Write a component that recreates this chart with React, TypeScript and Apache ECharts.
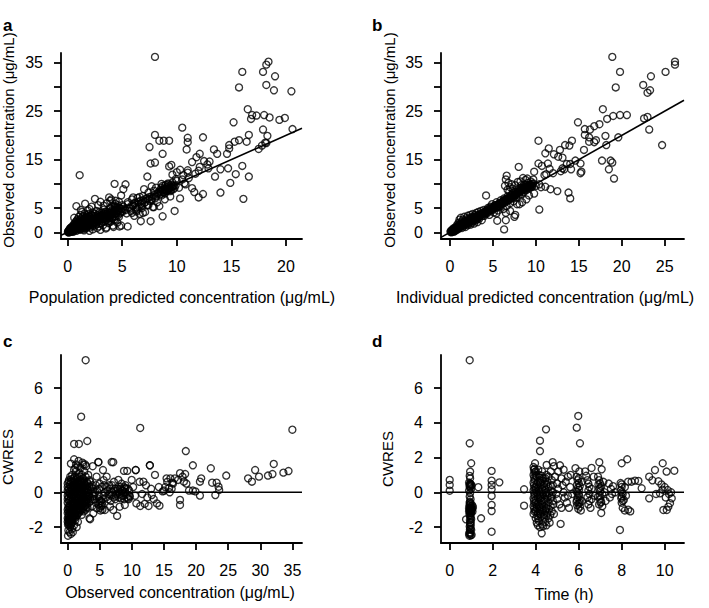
import React, { useEffect, useRef } from "react";
import * as echarts from "echarts";

// ---------- tick arrays ----------
const popPredTicks = [0, 5, 10, 15, 20];
const indPredTicks = [0, 5, 10, 15, 20, 25];
const obsTicksAB = [0, 5, 10, 15, 20, 25, 30, 35];
const obsLabelsAB = [0, 5, 15, 25, 35];
const obsTicksC = [0, 5, 10, 15, 20, 25, 30, 35];
const cwresTicks = [-2, 0, 2, 4, 6];
const timeTicks = [0, 2, 4, 6, 8, 10];

// ---------- panel a: population predicted vs observed ----------
const popPredObs: number[][] = [
  [0.02,0.05],[0.05,0.2],[0.08,0.1],[0.1,0.4],[0.12,0.0],[0.15,0.3],[0.18,0.6],[0.2,0.15],[0.22,0.8],[0.25,0.4],[0.28,0.1],[0.3,0.6],[0.32,1.0],[0.35,0.3],[0.38,0.7],[0.4,0.2],[0.42,1.2],[0.45,0.5],[0.48,0.9],[0.5,0.3],[0.52,1.5],[0.55,0.7],[0.58,1.1],[0.6,0.4],[0.62,1.8],[0.65,0.9],[0.68,1.3],[0.7,0.5],[0.72,2.1],[0.75,1.0],[0.78,1.6],[0.8,0.7],[0.82,2.4],[0.85,1.2],[0.88,1.9],[0.9,0.6],[0.92,2.7],[0.95,1.4],[0.98,0.9],[1.0,2.2],[1.02,3.2],[1.05,1.6],[1.08,0.8],[1.1,2.6],[1.12,1.2],[1.15,1.9],[1.18,3.6],[1.2,0.7],[1.22,2.3],[1.25,1.5],[1.28,2.9],[1.3,1.0],[1.32,4.2],[1.35,1.8],[1.38,2.5],[1.4,1.3],[1.42,3.3],[1.45,0.9],[1.48,2.1],[1.5,1.6],[1.52,2.8],[1.55,3.9],[1.58,1.2],[1.6,2.4],[1.62,1.9],[1.65,3.1],[1.68,0.8],[1.7,2.7],[1.72,1.5],[1.75,3.5],[1.78,2.2],[1.8,1.1],[1.82,2.9],[1.85,4.5],[1.88,1.8],[1.9,2.5],[1.92,3.8],[1.95,1.4],[1.98,2.1],[2.0,3.2],[2.05,1.0],[2.1,2.7],[2.15,3.6],[2.2,1.7],[2.25,2.3],[2.3,4.1],[2.35,1.3],[2.4,3.0],[2.45,2.0],[2.5,3.4],[2.55,2.6],[2.6,1.6],[2.65,4.4],[2.7,2.2],[2.75,3.1],[2.8,2.8],[2.85,1.2],[2.9,3.7],[2.95,2.4],[3.0,3.3],[3.05,1.9],[3.1,4.0],[3.15,2.7],[3.2,3.5],[3.25,1.5],[3.3,2.9],[3.35,4.7],[3.4,2.3],[3.45,3.8],[3.5,3.1],[3.55,1.0],[3.6,2.6],[3.65,4.2],[3.7,3.4],[3.75,1.9],[3.8,2.9],[3.85,5.0],[3.9,3.6],[3.95,2.2],[4.0,4.1],[4.05,3.0],[4.1,5.4],[4.15,1.4],[4.2,3.8],[4.25,2.6],[4.3,4.6],[4.35,5.9],[4.4,3.3],[4.45,4.0],[4.5,5.2],[4.55,2.0],[4.6,4.7],[4.65,3.6],[4.7,6.3],[4.75,1.2],[4.8,5.0],[4.9,4.3],[5.0,5.6],[4.4,6.5],[4.6,5.6],[4.5,4.4],[4.3,5.1],
  [0.1,0.0],[0.2,0.3],[0.3,0.2],[0.4,0.5],[0.5,0.6],[0.6,0.8],[0.7,0.7],[0.8,1.1],[0.9,1.0],[1.0,1.2],[1.1,1.0],[1.2,1.5],[1.3,1.3],[1.4,1.7],[1.5,1.2],[1.6,1.8],[1.7,1.4],[1.8,2.0],[1.9,1.6],[2.0,2.2],[2.1,1.9],[2.2,2.5],[2.3,2.0],[2.4,2.6],[2.5,2.2],[2.6,2.8],[2.7,2.5],[2.8,3.0],[2.9,2.6],[3.0,3.1],[3.1,2.8],[3.2,3.3],[3.3,2.7],[3.4,3.5],[3.5,2.9],[3.6,3.7],[3.7,3.1],[3.8,3.9],[3.9,3.3],[4.0,3.6],[4.1,3.2],[4.2,4.3],[4.3,3.7],[4.4,4.8],[4.5,3.9],[4.6,4.3],[4.7,5.0],[4.8,4.0],[4.9,4.8],[5.0,4.2],
  [0.3,0.9],[0.6,1.4],[0.9,1.7],[1.1,2.0],[1.3,2.2],[1.5,2.4],[1.7,3.0],[1.9,3.3],[2.1,3.1],[2.3,3.4],[2.5,3.8],[2.7,3.5],[2.9,4.1],[3.1,3.6],[3.3,3.9],[3.5,4.3],[3.7,4.0],[3.9,4.9],[4.1,4.6],[4.3,5.4],
  [0.5,0.1],[0.8,0.3],[1.1,0.5],[1.4,0.6],[1.7,1.0],[2.0,1.4],[2.3,1.5],[2.6,2.0],[2.9,1.8],[3.2,2.2],[3.5,2.5],[3.8,2.4],[4.1,2.8],[4.4,2.6],[4.7,3.2],
  [2.3,0.6],[2.7,0.9],[3.0,0.5],[1.5,0.4],[2.0,0.3],[0.6,3.0],[1.2,4.6],[2.2,5.3],[2.8,5.6],[3.0,6.3],[3.3,5.5],[3.6,6.0],[3.8,7.2],[4.0,6.8],
  [5.1,5.3],[5.3,4.6],[5.5,5.8],[5.7,4.9],[5.9,5.6],[6.1,6.0],[6.3,5.2],[6.5,6.3],[6.7,5.8],[6.9,6.6],[7.1,6.2],[7.3,7.0],[7.5,7.3],[7.7,6.9],[7.9,7.7],[8.1,7.4],[8.3,8.3],[8.5,7.9],[8.7,8.6],[8.9,8.0],[9.1,8.8],[9.3,9.2],[9.5,8.7],[9.7,9.6],[9.8,9.2],
  [5.2,4.8],[5.4,3.9],[5.5,6.2],[5.6,5.1],[5.8,4.4],[5.9,6.8],[6.0,5.5],[6.1,3.4],[6.2,6.1],[6.3,4.6],[6.4,7.1],[6.5,5.3],[6.6,3.8],[6.7,6.5],[6.8,5.0],[6.9,7.5],[7.0,6.0],[7.1,4.2],[7.2,7.0],[7.3,5.6],[7.4,8.2],[7.5,6.5],[7.6,2.3],[7.7,7.4],[7.8,5.2],[7.9,8.6],[8.0,7.0],[8.1,9.2],[8.2,6.2],[8.3,8.0],[8.4,5.4],[8.5,8.8],[8.6,7.6],[8.7,9.6],[8.8,8.3],[8.9,6.8],[9.0,9.0],[9.1,8.5],[9.2,9.9],[9.3,8.8],[9.4,7.4],[9.5,9.4],[9.6,10.3],[9.7,8.9],[9.9,9.7],[10.0,10.6],[10.2,9.2],[10.5,10.9],[10.6,11.8],[10.8,9.9],[11.0,12.3],
  [8.5,8.4],[8.7,8.8],[8.9,9.0],[9.0,8.6],[9.1,9.3],[9.2,8.9],[9.3,9.6],[9.4,9.1],[9.5,9.8],[9.6,9.4],[8.8,8.2],[9.0,9.8],[9.2,10.1],[8.6,9.2],[9.4,8.5],
  [8.0,36.2],[16.0,33.1],[18.4,35.2],[18.2,34.6],[17.9,33.1],[19.0,32.2],[15.7,29.9],[18.2,30.4],[18.9,29.3],[20.5,29.1],[20.6,21.3],[16.5,25.4],[16.9,24.2],[17.3,24.1],[16.8,23.4],[18.0,24.2],[18.5,23.7],[19.4,23.2],[19.9,23.6],[15.2,22.7],[16.6,20.1],[15.7,19.0],[15.3,18.7],[14.8,18.0],[14.8,17.3],[14.6,16.2],[17.9,21.2],[18.3,19.9],[18.1,18.5],[17.8,17.9],[18.2,18.4],[17.5,17.2],[16.4,18.7],[16.0,13.7],[16.6,11.5],[16.1,6.9],[15.4,12.0],[14.9,10.2],[14.7,13.2],[14.0,13.0],[14.0,8.2],[13.5,11.5],[13.4,17.1],[13.7,16.2],[12.4,19.6],[12.1,16.2],[11.8,15.5],[12.5,14.7],[12.8,14.0],[12.1,13.5],[12.0,12.7],[11.4,14.5],[11.0,12.8],[10.5,21.6],[11.0,19.5],[11.0,18.6],[10.9,17.1],[10.3,12.9],[10.0,12.4],[9.6,11.9],[9.5,13.9],[9.3,13.6],[8.0,20.1],[8.4,18.9],[8.8,18.9],[9.3,18.9],[7.5,17.6],[8.7,16.2],[7.6,14.2],[8.0,14.4],[7.3,11.5],[9.8,4.4],[10.3,7.0],[11.4,9.1],[11.6,8.3],[12.0,7.2],[12.4,7.9],[8.7,3.3],[7.7,6.6],[6.7,2.3],[1.1,11.8],[4.3,10.0],[5.3,9.9],[5.1,8.9],[4.9,7.6],[2.5,6.9],[1.6,5.9],[0.8,5.4],[2.0,4.8],[3.9,6.5],[6.0,7.2],[6.6,7.3],[7.0,8.9],[7.7,9.5],[8.6,10.0],[8.9,9.6],[8.9,8.7],[8.2,8.0],[4.2,1.1],[4.9,1.4],[5.5,1.2],[3.5,0.8],[5.9,4.0],[6.3,4.3],[6.9,4.0],[7.4,5.6],[7.9,5.2],[6.8,5.6],[6.4,4.9],
  [13.0,14.6],[12.9,13.2],[11.1,11.2],[10.7,10.1],[9.9,11.0],[11.7,12.1]
];

// ---------- panel b: individual predicted vs observed ----------
const indPredObs: number[][] = [
  [0.05,0.1],[0.1,0.3],[0.15,0.0],[0.2,0.4],[0.25,0.2],[0.3,0.6],[0.35,0.3],[0.4,0.8],[0.45,0.1],[0.5,0.5],[0.55,0.9],[0.6,0.3],[0.65,0.7],[0.7,1.2],[0.75,0.5],[0.8,1.0],[0.85,1.6],[0.9,0.6],[0.95,1.3],[1.0,2.0],[1.0,0.8],[1.05,1.5],[1.1,2.6],[1.15,1.0],[1.2,1.8],[1.25,3.0],[1.3,1.3],[1.35,2.2],[1.4,0.9],[1.45,1.7],[1.5,2.6],[1.55,1.2],[1.6,2.0],[1.65,3.2],[1.7,1.6],[1.75,2.4],[1.8,1.1],[1.85,2.0],[1.9,2.9],[1.95,1.7],[2.0,2.4],[2.05,3.4],[2.1,1.5],[2.15,2.2],[2.2,2.9],[2.25,1.9],[2.3,2.6],[2.35,3.6],[2.4,1.6],[2.45,2.4],[2.5,3.1],[2.55,2.0],[2.6,2.8],[2.65,3.8],[2.7,2.3],[2.75,3.2],[2.8,1.8],[2.85,2.7],[2.9,3.6],[2.95,2.4],[3.0,3.1],[3.05,4.0],[3.1,2.6],[3.15,3.4],[3.2,2.1],[3.25,3.0],[3.3,4.2],[3.35,3.6],[3.4,2.8],[3.5,3.3],[3.6,4.4],[3.7,2.5],[3.8,3.8],[3.9,4.6],[4.0,3.4],[4.1,4.1],[4.2,7.6],[4.3,3.9],[4.4,5.0],[4.5,4.3],[4.6,3.6],[4.7,5.3],[4.8,4.6],[4.9,5.8],[5.0,4.9],[5.1,4.1],[5.2,5.5],[5.3,5.0],[5.4,6.2],[5.5,5.3],[5.6,4.5],[5.7,5.9],[5.8,5.4],[5.9,6.6],[6.0,5.8],[6.1,6.3],[6.2,4.8],[6.3,7.0],[6.4,6.1],[6.5,6.7],[6.6,5.4],[6.7,7.4],[6.8,6.6],[6.9,7.2],[7.0,6.0],[7.1,7.7],[7.2,7.0],[7.3,8.1],[7.4,6.4],[7.5,7.6],[7.6,8.4],[7.7,7.2],[7.8,8.0],[7.9,8.8],[8.0,7.6],[8.1,8.5],[8.2,9.2],[8.3,7.9],[8.4,8.9],[8.5,9.5],[8.6,8.3],[8.7,9.1],[8.8,9.8],[8.9,8.7],[9.0,9.5],[9.1,10.2],[9.2,9.1],[9.3,9.8],[9.4,10.5],[9.5,9.4],[9.6,10.0],[8.2,10.5],[8.5,11.2],[8.8,10.8],[9.0,11.1],[6.6,11.7],[6.5,10.9],[6.8,10.2],[7.0,9.3],[6.4,9.6],[6.9,8.4],[7.3,9.0],[7.6,9.7],
  [0.2,0.1],[0.3,0.3],[0.4,0.4],[0.5,0.3],[0.6,0.6],[0.7,0.6],[0.8,0.8],[0.9,1.0],[1.0,1.1],[1.1,1.3],[1.2,1.1],[1.3,1.6],[1.4,1.4],[1.5,1.9],[1.6,1.5],[1.7,2.1],[1.8,1.8],[1.9,2.2],[2.0,1.9],[2.1,2.5],[2.2,2.2],[2.3,2.3],[2.4,2.8],[2.5,2.5],[2.6,2.4],[2.7,2.9],[2.8,2.6],[2.9,3.1],[3.0,2.8],[3.1,3.3],[3.2,3.0],[3.3,3.4],[3.4,3.2],[3.5,3.7],[3.6,3.5],[3.7,3.9],[3.8,3.4],[3.9,4.0],[4.0,4.2],[4.1,3.8],[4.2,4.4],[4.3,4.6],[4.4,4.2],[4.5,4.8],[4.6,4.5],[4.7,4.7],[4.8,5.0],[4.9,4.5],[5.0,5.3],[5.1,5.0],[5.2,5.2],[5.3,5.6],[5.4,5.1],[5.5,5.7],[5.6,5.5],[5.7,5.3],[5.8,6.0],[5.9,5.8],[6.0,6.2],[6.1,5.9],[6.2,6.5],[6.3,6.2],[6.4,6.8],[6.5,6.4],[6.6,6.9],[6.7,6.6],[6.8,7.1],[6.9,6.8],[7.0,7.2],[7.1,7.0],[7.2,7.5],[7.3,7.3],[7.4,7.8],[7.5,7.4],[7.6,7.9],[7.7,7.7],[7.8,8.3],[7.9,8.1],[8.0,8.4],[8.1,8.2],[8.2,8.7],[8.3,8.5],[8.4,9.0],[8.5,8.7],[8.6,9.2],[8.7,8.9],[8.8,9.3],[8.9,9.1],[9.0,9.7],[9.1,9.3],[9.2,9.6],[9.3,9.3],[9.4,9.9],[9.5,9.7],[9.6,9.5],[9.7,10.1],
  [5.5,2.4],[5.4,3.9],[5.9,5.3],[6.5,4.0],[6.5,2.5],[6.3,0.6],[7.5,3.2],[7.6,3.6],[7.0,4.4],[7.8,5.8],[8.1,5.8],[8.4,6.2],[8.9,6.8],[9.2,7.6],[9.8,8.0],[10.4,9.9],[10.4,4.7],[11.1,9.4],[11.7,8.9],[12.5,8.5],[13.8,8.2],[14.0,7.0],
  [10.3,18.9],[10.3,14.2],[10.7,13.7],[11.1,16.3],[11.5,17.3],[11.2,12.0],[9.8,12.5],[8.0,13.5],[11.4,14.2],[11.6,13.1],[13.1,13.2],[13.6,14.1],[14.0,14.1],[14.6,14.8],[12.1,16.1],[12.8,17.0],[13.4,18.0],[13.9,17.9],[14.2,18.9],[12.6,15.6],[13.1,15.4],[15.2,14.2],[15.2,12.2],[15.3,12.5],[14.1,13.0],[15.6,17.0],[15.7,20.1],[16.2,19.6],[16.2,18.7],[16.8,18.6],[17.0,19.0],[15.7,21.3],[16.3,21.2],[16.8,21.9],[17.4,22.3],[14.9,22.7],[18.1,19.9],[19.6,19.6],[17.7,14.8],[18.7,14.8],[18.9,14.4],[18.5,13.0],[19.1,11.1],[18.2,18.0],[24.7,18.0],[23.2,21.2],[22.6,23.5],[23.0,23.8],[19.0,24.0],[19.8,24.2],[20.6,24.2],[17.8,25.4],[18.3,23.4],[19.3,29.9],[22.5,30.4],[23.0,28.8],[23.3,29.3],[23.4,32.2],[19.8,33.1],[25.1,33.1],[26.2,35.2],[26.2,34.6],[18.9,36.2],
  [6.7,8.8],[7.2,9.9],[7.9,10.4],[8.3,9.7],[9.7,10.9],[10.0,9.6],[10.6,9.3],[11.0,11.8],[12.0,12.2],[12.9,12.6],[13.3,13.0]
];

// ---------- panel c: observed vs CWRES ----------
const obsCwres: number[][] = [
  [0.05,-2.5],[0.1,-2.2],[0.2,-1.9],[0.3,-2.3],[0.4,-2.0],[0.5,-2.4],[0.6,-1.8],[0.7,-2.1],[0.8,-2.3],[1.0,-1.9],[1.2,-1.6],[1.4,-2.0],[1.6,-1.7],
  [0.0,-1.7],[0.1,-1.6],[0.2,-1.75],[0.3,-1.65],[0.4,-1.7],[0.5,-1.6],[0.6,-1.5],[0.7,-1.7],[0.8,-1.55],[0.9,-1.4],[1.0,-1.3],[1.1,-1.5],[1.2,-1.2],[1.3,-1.4],[1.4,-1.1],[1.5,-1.3],[1.6,-1.0],[1.7,-1.2],[1.8,-0.9],[1.9,-1.1],[2.0,-0.8],[2.1,-1.0],[2.2,-1.3],[2.3,-0.7],[2.4,-0.9],[2.5,-1.1],[2.6,-0.6],[2.7,-0.8],[2.8,-1.0],[2.9,-0.5],[3.0,-0.7],[3.1,-0.9],[3.2,-0.4],[3.3,-0.6],[3.4,-1.5],[3.5,-0.3],[3.6,-0.5],[3.8,-0.8],[4.0,-0.2],[4.2,-0.4],[4.4,-0.6],
  [0.0,-1.2],[0.1,-0.9],[0.2,-1.3],[0.3,-1.0],[0.4,-0.7],[0.5,-1.1],[0.6,-0.8],[0.7,-1.2],[0.8,-0.5],[0.9,-0.9],[1.0,-0.6],[1.1,-1.0],[1.2,-0.4],[1.3,-0.8],[1.4,-0.5],[1.5,-0.9],[1.6,-0.3],[1.7,-0.7],[1.8,-0.4],[1.9,-0.6],[2.0,-0.2],[2.1,-0.5],[2.2,-0.1],[2.3,-0.4],[2.4,-0.2],[2.5,-0.5],[2.6,0.0],[2.7,-0.3],[2.8,0.1],[2.9,-0.2],[3.0,0.2],[3.2,0.0],[3.4,0.3],[3.6,0.1],[3.8,0.4],[4.0,0.2],
  [0.0,-0.4],[0.1,0.0],[0.2,-0.5],[0.3,-0.1],[0.4,0.3],[0.5,-0.3],[0.6,0.1],[0.7,-0.2],[0.8,0.4],[0.9,0.0],[1.0,0.2],[1.1,-0.1],[1.2,0.5],[1.3,0.1],[1.4,0.3],[1.5,0.0],[1.6,0.6],[1.7,0.2],[1.8,0.4],[1.9,0.1],[2.0,0.7],[2.1,0.3],[2.2,0.5],[2.3,0.2],[2.4,0.8],[2.5,0.4],[2.6,0.6],[2.7,0.3],[2.8,0.9],[3.0,0.6],[3.2,1.0],[3.4,0.7],
  [0.0,0.3],[0.2,0.7],[0.4,0.9],[0.5,0.6],[0.7,1.0],[0.9,0.8],[1.0,1.3],[1.1,0.9],[1.3,1.2],[1.5,0.9],[1.6,1.5],[1.8,1.1],[2.0,1.4],[2.2,1.0],[2.4,1.6],[2.6,1.2],[2.9,1.5],
  [0.5,1.65],[1.0,1.9],[1.3,1.6],[1.7,1.8],[2.3,1.7],[2.7,1.6],[1.2,1.4],
  [0.0,-1.5],[0.0,-1.0],[0.0,-0.6],[0.0,-0.2],[0.0,0.1],[0.0,0.5],
  [0.15,-1.4],[0.15,-1.1],[0.15,-0.8],[0.15,-0.3],[0.15,0.2],[0.15,0.6],
  [0.35,-1.5],[0.35,-1.2],[0.35,-0.85],[0.35,-0.45],[0.35,0.05],[0.35,0.45],
  [0.55,-1.35],[0.55,-0.95],[0.55,-0.55],[0.55,-0.15],[0.55,0.25],[0.55,0.75],
  [0.75,-1.45],[0.75,-1.0],[0.75,-0.65],[0.75,-0.35],[0.75,0.15],[0.75,0.55],
  [0.95,-1.2],[0.95,-0.75],[0.95,-0.3],[0.95,0.35],[0.95,0.65],
  [1.15,-1.35],[1.15,-0.85],[1.15,-0.5],[1.15,0.05],[1.15,0.4],[1.15,0.7],
  [1.35,-1.0],[1.35,-0.65],[1.35,-0.25],[1.35,0.2],[1.35,0.6],
  [1.55,-1.15],[1.55,-0.75],[1.55,-0.4],[1.55,0.15],[1.55,0.45],[1.55,0.8],
  [1.75,-0.95],[1.75,-0.55],[1.75,-0.1],[1.75,0.3],[1.75,0.65],
  [1.95,-1.0],[1.95,-0.45],[1.95,0.0],[1.95,0.45],[1.95,0.9],
  [2.15,-0.75],[2.15,-0.3],[2.15,0.15],[2.15,0.6],
  [2.35,-1.0],[2.35,-0.55],[2.35,-0.05],[2.35,0.35],[2.35,0.7],
  [2.55,-0.8],[2.55,-0.3],[2.55,0.15],[2.55,0.55],
  [2.75,-0.6],[2.75,-0.15],[2.75,0.2],
  [2.95,-0.85],[2.95,-0.4],[2.95,0.0],[2.95,0.4],
  [3.2,-0.25],[3.2,0.15],
  [0.05,-1.85],[0.25,-1.8],[0.45,-1.85],[0.15,-1.55],[0.35,-1.6],
  [2.8,7.6],[2.1,4.35],[1.0,2.78],[1.75,2.78],[3.05,2.95],
  [6.85,1.74],[4.77,1.74],[8.77,1.23],[9.28,1.23],[10.6,1.28],[12.8,1.55],[3.9,1.5],[5.5,1.28],[6.07,0.9],[7.9,0.71],[9.97,0.71],[11.8,0.61],[13.6,1.0],[15.4,0.8],[16.7,0.8],[18.3,1.05],
  [4.5,0.9],[5.0,0.5],[5.6,0.7],[6.5,0.4],[7.2,0.6],[8.4,0.5],[9.0,0.4],[10.2,0.3],[11.2,0.6],[12.2,0.4],[13.0,0.2],[14.2,0.3],[15.0,0.1],[15.8,0.25],[16.4,0.5],
  [4.6,0.1],[4.8,-0.2],[5.0,-0.5],[5.2,-0.8],[5.3,-0.6],[5.4,-1.0],[5.5,-0.4],[5.6,-0.2],[5.8,0.0],[6.0,-0.3],[6.2,0.1],[6.4,-0.1],[6.6,0.2],[6.8,-0.2],[7.0,0.0],[7.2,-0.3],[7.4,0.2],[7.6,-0.1],[7.8,0.1],[8.0,-0.3],[8.2,0.2],[8.4,-0.2],[8.6,0.1],[8.8,-0.4],[9.0,0.0],[9.2,-0.3],[9.4,0.2],[9.6,-0.2],[7.4,-0.4],[8.1,-0.1],[8.9,0.2],[9.5,-0.4],
  [7.2,0.1],[7.5,-0.2],[7.8,0.2],[8.0,0.0],[8.3,-0.35],[8.5,0.1],[8.7,-0.2],[9.0,0.25],[9.2,-0.1],[9.4,-0.35],[9.6,0.1],[9.7,-0.25],[8.2,0.3],[8.8,0.3],
  [4.8,-0.7],[5.0,-0.9],[5.2,-0.5],[5.4,-0.75],[5.1,-1.05],[4.9,-0.4],
  [3.3,-0.2],[3.7,0.3],[4.1,-0.1],[4.4,0.4],[4.9,0.2],[5.3,0.3],[5.7,0.4],[6.1,0.3],[6.3,-0.4],[6.7,-0.5],[6.9,0.4],[3.1,0.5],[3.5,0.6],[3.9,-0.4],[4.3,0.0],
  [7.7,-1.36],[3.5,-1.55],[7.1,-1.02],[8.1,-0.83],[8.9,-0.73],[6.6,-0.83],[5.8,-1.02],[4.5,-0.92],[4.0,-1.21],[5.0,-0.63],[10.7,-0.64],[11.3,-0.79],[12.0,-0.67],[12.6,-0.79],[13.1,-0.16],[13.4,-0.39],[13.9,-0.64],[14.3,-0.77],[17.5,-0.44],[17.5,-0.73],[10.5,-0.2],[11.6,-0.1],[12.4,-0.3],[14.8,0.05],
  [11.3,3.7],[35.0,3.6],[18.4,2.37],[19.5,1.55],[22.3,1.38],[24.7,0.96],[12.8,1.55],[10.6,1.28],[7.1,1.73],[4.8,1.73],[28.1,0.8],[28.7,0.61],[29.2,1.28],[29.8,0.9],[31.2,0.96],[31.9,1.05],[32.1,1.63],[33.6,1.13],[34.4,1.22],
  [20.6,0.61],[20.8,0.8],[20.6,-0.19],[22.5,0.55],[23.2,0.55],[23.5,0.32],[23.6,0.13],[23.0,-0.16],[18.5,0.5],[18.9,0.1],[19.5,0.1],[19.9,0.05],[17.5,1.1],[17.9,0.9],[18.1,0.61],[17.2,0.71],[16.0,0.8],[16.3,0.55],[15.5,0.6],[15.2,0.3],[16.2,0.2],[15.9,0.0]
];

// ---------- panel d: time vs CWRES ----------
const timeCwres: number[][] = [
  [0.0,0.71],[0.0,0.42],[0.0,0.09],
  [0.93,7.6],[0.93,2.82],[1.0,1.67],[0.95,1.19],[0.93,0.94],[0.95,0.8],[0.9,0.55],[0.95,0.48],[0.98,0.42],[0.92,0.38],[0.96,0.33],[0.94,0.28],[1.0,0.22],[0.9,0.1],[0.95,-0.04],[0.93,-0.25],[0.97,-0.4],[0.94,-0.55],[0.98,-0.65],[0.92,-0.75],[0.96,-0.85],[1.0,-0.9],[0.94,-0.95],[0.97,-1.0],[0.93,-1.05],[0.99,-1.1],[0.95,-1.15],[0.96,-1.22],[0.92,-1.31],[0.97,-1.45],[0.94,-1.6],[0.98,-1.72],[0.95,-1.85],[0.93,-1.97],[0.97,-2.08],[1.0,-2.17],[0.93,-2.3],[0.95,-2.4],[0.98,-2.48],[0.92,-2.5],[1.05,-0.75],[1.05,-0.95],[1.08,-0.85],[1.06,-1.1],
  [0.95,0.5],[0.97,0.45],[0.93,-0.6],[0.95,-0.7],[1.0,-0.8],[0.98,-1.0],[1.0,-1.2],[0.96,-1.35],[1.0,-1.55],[0.95,-1.75],[0.98,-1.9],[0.94,-2.15],[0.96,-2.35],[0.9,-2.4],[1.02,-2.45],[1.02,-1.0],[0.9,-0.9],[0.9,-1.1],[1.02,0.4],
  [0.76,-1.56],[1.46,-1.5],[1.33,0.29],
  [1.95,1.23],[1.95,0.67],[1.95,0.42],[1.95,0.17],[1.95,-0.21],[1.95,-0.73],[1.95,-1.08],[1.95,-2.27],[2.31,0.57],
  [3.46,0.17],[3.46,-0.77],
  [3.97,1.67],[4.2,2.37],[4.2,2.97],[4.48,3.62],[4.51,1.57],[4.79,1.73],[5.13,1.55],[4.28,-2.36],[5.16,-1.82],
  [3.9,1.45],[3.92,1.3],[3.95,1.15],[3.9,1.0],[3.93,0.85],[3.95,0.7],[3.9,0.55],[3.92,0.4],[3.94,0.25],[3.9,0.1],[3.93,-0.05],[3.95,-0.2],[3.9,-0.35],[3.92,-0.5],[3.94,-0.65],[3.9,-0.8],[3.93,-0.95],[3.95,-1.1],[3.9,-1.25],
  [4.0,1.2],[4.05,0.9],[4.1,0.6],[4.0,0.3],[4.05,0.0],[4.1,-0.3],[4.0,-0.6],[4.05,-0.9],[4.1,-1.2],[4.0,-1.5],[4.05,-1.75],[4.1,-1.9],
  [4.15,1.0],[4.2,0.7],[4.25,0.4],[4.15,0.1],[4.2,-0.2],[4.25,-0.5],[4.15,-0.8],[4.2,-1.1],[4.25,-1.4],[4.15,-1.65],[4.3,-1.85],[4.2,-2.0],
  [4.3,1.2],[4.35,0.8],[4.4,0.5],[4.3,0.2],[4.35,-0.1],[4.4,-0.4],[4.3,-0.7],[4.35,-1.0],[4.4,-1.3],[4.45,-1.7],[4.35,-1.95],[4.5,-1.9],
  [4.5,1.0],[4.55,0.6],[4.6,0.3],[4.5,0.0],[4.55,-0.3],[4.6,-0.6],[4.5,-0.9],[4.55,-1.2],[4.6,-1.5],[4.65,-1.75],
  [4.7,1.2],[4.75,0.7],[4.8,0.4],[4.7,0.1],[4.75,-0.2],[4.8,-0.5],[4.7,-0.8],[4.75,-1.1],[4.85,-1.25],
  [3.95,1.35],[4.0,0.95],[4.05,0.45],[4.0,0.15],[4.08,-0.15],[4.0,-0.45],[4.05,-0.75],[4.0,-1.05],[4.08,-1.35],
  [4.12,1.3],[4.18,0.85],[4.22,0.55],[4.12,0.25],[4.18,-0.05],[4.22,-0.35],[4.12,-0.65],[4.18,-0.95],[4.22,-1.25],[4.12,-1.5],
  [4.28,0.95],[4.32,0.65],[4.38,0.35],[4.28,0.05],[4.32,-0.25],[4.38,-0.55],[4.28,-0.85],[4.32,-1.15],[4.38,-1.45],
  [4.45,0.8],[4.5,0.45],[4.45,0.15],[4.5,-0.15],[4.45,-0.45],[4.5,-0.75],[4.45,-1.05],[4.5,-1.35],[4.6,0.9],[4.62,-0.05],[4.62,-0.95],[4.7,0.4],[4.72,-0.3],[4.68,-1.3],[4.8,0.0],[4.82,-0.7],
  [4.9,0.9],[5.0,0.5],[5.05,0.2],[4.95,-0.1],[5.0,-0.4],[5.1,-0.7],[5.2,0.8],[5.25,0.4],[5.3,0.0],[5.35,-0.3],[5.2,-0.9],[5.4,0.6],[5.5,-0.2],[5.45,-0.6],[5.63,1.0],[5.6,0.3],[5.7,-0.1],[5.55,-0.9],[4.85,1.5],[5.05,1.2],[5.3,1.3],[5.5,0.9],
  [5.98,4.39],[5.91,3.72],[6.06,2.82],[5.85,1.39],[6.03,1.2],[5.9,0.9],[5.95,0.7],[6.0,0.52],[5.92,0.42],[6.05,0.35],[5.97,0.25],[6.02,0.15],[5.9,0.05],[6.0,-0.1],[5.95,-0.3],[6.05,-0.44],[5.9,-0.55],[6.0,-0.65],[5.93,-0.75],[6.06,-0.83],[5.98,-0.95],[6.1,-1.05],[6.15,0.6],[6.15,-0.5],
  [6.0,0.8],[5.95,0.0],[6.02,-0.2],[5.92,-0.45],[6.05,-0.6],
  [6.3,1.2],[6.35,0.95],[6.4,0.7],[6.45,0.5],[6.5,0.3],[6.45,0.1],[6.5,-0.1],[6.4,-0.3],[6.5,-0.5],[6.45,-0.7],[6.55,-0.9],[6.6,1.4],[6.6,0.2],[6.6,-0.4],[6.7,0.9],[6.75,-0.2],
  [6.96,1.73],[7.07,1.32],[6.9,0.9],[6.95,0.7],[7.0,0.5],[7.05,0.35],[6.95,0.2],[7.0,0.05],[7.1,-0.1],[6.9,-0.25],[7.0,-0.4],[7.05,-0.55],[6.95,-0.7],[7.1,-0.8],[7.05,-1.19],[7.15,0.6],[7.2,0.0],[7.25,-0.5],
  [7.0,0.25],[6.98,-0.2],[7.02,-0.6],[6.92,0.45],
  [7.4,0.5],[7.5,0.2],[7.6,0.35],[7.45,-0.3],[7.55,-0.1],[7.7,0.0],
  [7.92,-2.17],[8.0,1.67],[8.26,1.9],[7.95,0.53],[8.0,0.3],[7.95,0.1],[8.05,-0.1],[8.0,-0.25],[8.1,-0.44],[8.0,-0.6],[8.05,-0.9],[8.15,-1.05],[8.3,-1.0],[8.4,-1.1],[8.3,0.61],[8.46,0.61],[8.62,0.67],[8.78,0.65],[8.15,0.3],[8.2,-0.2],
  [8.0,0.45],[8.02,0.0],[7.98,-0.35],[8.05,-0.5],
  [8.93,0.23],[9.28,0.9],[9.55,1.28],[9.91,1.67],[10.09,1.19],[10.45,1.24],[9.43,0.69],[9.71,0.63],[9.85,0.45],[10.0,0.3],[10.14,0.13],[10.3,0.0],[9.78,-0.06],[9.9,0.15],[9.6,-0.1],[9.28,-0.35],[10.33,-0.35],[10.25,-0.63],[10.17,-0.83],[9.94,-1.02],[10.1,-1.02],[10.05,-0.3],[10.2,-0.1]
];

const FONT = "'Liberation Sans', Arial, Helvetica, sans-serif";

function valueAxis(gridIndex: number, min: number, max: number, ticks: number[], labels: number[], isX: boolean) {
  return {
    type: "value",
    gridIndex,
    min,
    max,
    axisLine: { show: true, onZero: false, lineStyle: { color: "#000", width: 1.8 } },
    axisTick: { show: true, inside: false, length: 7, customValues: ticks, lineStyle: { color: "#000", width: 1.8 } },
    axisLabel: {
      show: true,
      customValues: labels,
      color: "#000",
      fontFamily: FONT,
      fontSize: 16,
      margin: isX ? 19 : 18,
    },
    splitLine: { show: false },
  };
}

function scatter(idx: number, data: number[][]) {
  return {
    type: "scatter",
    xAxisIndex: idx,
    yAxisIndex: idx,
    data,
    symbol: "circle",
    symbolSize: 7,
    itemStyle: { color: "rgba(0,0,0,0)", borderColor: "#000", borderWidth: 1.35 },
    silent: true,
  };
}

function refLine(idx: number, data: number[][]) {
  return {
    type: "line",
    xAxisIndex: idx,
    yAxisIndex: idx,
    data,
    symbol: "none",
    clip: true,
    lineStyle: { color: "#000", width: 1.6 },
    silent: true,
    z: 3,
  };
}

function txt(x: number, y: number, text: string, size: number, opts: any = {}) {
  return {
    type: "text",
    x,
    y,
    rotation: opts.rotation || 0,
    style: {
      text,
      fill: "#000",
      font: `${opts.bold ? "bold " : ""}${size}px ${FONT}`,
      align: opts.align || "center",
      verticalAlign: opts.va || "middle",
    },
  };
}

export default function App() {
  const ref = useRef<HTMLDivElement>(null);
  useEffect(() => {
    if (!ref.current) return;
    const chart = echarts.init(ref.current, null, { renderer: "svg" });
    const aX: [number, number] = [-0.61, 21.47];
    const bX: [number, number] = [-1.05, 27.25];
    const abY: [number, number] = [-1.38, 37.0];
    const cX: [number, number] = [-1.04, 36.5];
    const cdY: [number, number] = [-2.92, 7.9];
    const dX: [number, number] = [-0.405, 10.9];
    chart.setOption({
      animation: false,
      backgroundColor: "#fff",
      grid: [
        { left: 61, top: 53, width: 241, height: 186 },
        { left: 441, top: 53, width: 243, height: 186 },
        { left: 61, top: 355, width: 241, height: 188 },
        { left: 441, top: 355, width: 243, height: 188 },
      ],
      xAxis: [
        valueAxis(0, aX[0], aX[1], popPredTicks, popPredTicks, true),
        valueAxis(1, bX[0], bX[1], indPredTicks, indPredTicks, true),
        valueAxis(2, cX[0], cX[1], obsTicksC, obsTicksC, true),
        valueAxis(3, dX[0], dX[1], timeTicks, timeTicks, true),
      ],
      yAxis: [
        valueAxis(0, abY[0], abY[1], obsTicksAB, obsLabelsAB, false),
        valueAxis(1, abY[0], abY[1], obsTicksAB, obsLabelsAB, false),
        valueAxis(2, cdY[0], cdY[1], cwresTicks, cwresTicks, false),
        valueAxis(3, cdY[0], cdY[1], cwresTicks, cwresTicks, false),
      ],
      series: [
        scatter(0, popPredObs),
        refLine(0, [[aX[0], aX[0]], [aX[1], aX[1]]]),
        scatter(1, indPredObs),
        refLine(1, [[bX[0], bX[0]], [bX[1], bX[1]]]),
        scatter(2, obsCwres),
        refLine(2, [[cX[0], 0], [cX[1], 0]]),
        scatter(3, timeCwres),
        refLine(3, [[dX[0], 0], [dX[1], 0]]),
      ],
      graphic: [
        txt(3, 17, "a", 17, { bold: true, align: "left", va: "alphabetic" }),
        txt(372, 17, "b", 17, { bold: true, align: "left", va: "alphabetic" }),
        txt(3, 333, "c", 17, { bold: true, align: "left", va: "alphabetic" }),
        txt(372, 333, "d", 17, { bold: true, align: "left", va: "alphabetic" }),
        txt(8, 140, "Observed concentration (μg/mL)", 15, { rotation: Math.PI / 2 }),
        txt(389, 140, "Observed concentration (μg/mL)", 15, { rotation: Math.PI / 2 }),
        txt(7, 457, "CWRES", 15, { rotation: Math.PI / 2 }),
        txt(387, 459, "CWRES", 15, { rotation: Math.PI / 2 }),
        txt(182, 297, "Population predicted concentration (μg/mL)", 16),
        txt(545, 297, "Individual predicted concentration (μg/mL)", 16),
        txt(180, 592, "Observed concentration (μg/mL)", 16),
        txt(564, 594, "Time (h)", 16),
      ],
    });
    return () => chart.dispose();
  }, []);
  return <div ref={ref} style={{ position: "fixed", left: 0, top: 0, width: 709, height: 608 }} />;
}
